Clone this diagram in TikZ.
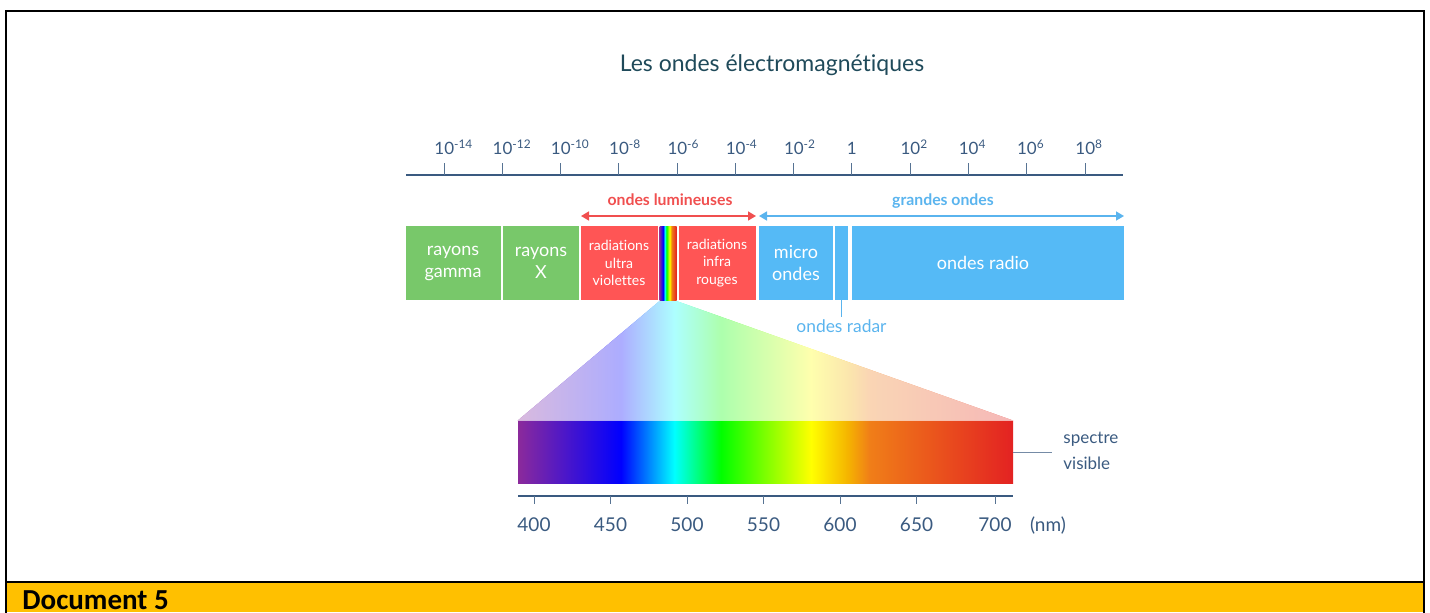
\documentclass[tikz,border=0pt]{standalone}
\usepackage{fontspec}
\setmainfont{Lato}[Ligatures=NoCommon]
\newfontfamily\docfont{Carlito}
\usetikzlibrary{arrows.meta,positioning}

\definecolor{gammagreen}{HTML}{78C86A}
\definecolor{lightred}{HTML}{FF5555}
\definecolor{waveblue}{HTML}{55BAF6}
\definecolor{titleteal}{HTML}{1F4A5A}
\definecolor{axisblue}{HTML}{3A5A80}
\definecolor{lumred}{HTML}{F04F4F}
\definecolor{grandblue}{HTML}{5AB4EE}
\definecolor{docyellow}{HTML}{FFC000}
\definecolor{specviolet}{HTML}{8B2A9B}
\definecolor{specamber}{HTML}{F5B400}
\definecolor{specorange}{HTML}{F07E18}
\definecolor{specred}{HTML}{E32222}

\pgfdeclarehorizontalshading{spectrum}{100bp}{color(0bp)=(specviolet); color(25bp)=(specviolet);
  color(35.4bp)=(blue); color(40.8bp)=(cyan); color(45.5bp)=(green); color(54.6bp)=(yellow);
  color(58.3bp)=(specamber); color(60.5bp)=(specorange); color(75bp)=(specred); color(100bp)=(specred)}

\begin{document}
\begin{tikzpicture}[x=0.5pt, y=-0.5pt,
    axis/.style={axisblue, line width=1pt},
    tick/.style={axisblue!85, line width=0.5pt},
    ticklabel/.style={axisblue, inner sep=0pt, font=\fontsize{8.5}{10}\selectfont},
    barlabel/.style={white, align=center, font=\fontsize{9}{11}\selectfont},
    smalllabel/.style={white, align=center, font=\fontsize{7}{8.75}\selectfont},
    rangearrow/.style={{Triangle[length=4pt,width=4.5pt]}-{Triangle[length=4pt,width=4.5pt]}, line width=0.75pt},
    rangelabel/.style={anchor=base, font=\bfseries\fontsize{7.9}{9}\selectfont},
    nmlabel/.style={axisblue, anchor=base, font=\fontsize{9.5}{11}\selectfont}]
  \useasboundingbox (0,0) rectangle (1430,612);

  % cadre et bandeau
  \fill[docyellow] (6,582) rectangle (1424,612);
  \draw[line width=1pt] (6,613) -- (6,11) -- (1424,11) -- (1424,613);
  \draw[line width=1pt] (6,582) -- (1424,582);
  \node[anchor=base west, inner sep=0pt, font=\docfont\bfseries\fontsize{14.5}{16}\selectfont] (doc) at (22,609) {Document 5};

  \node[titleteal, anchor=base, font=\fontsize{11.5}{13}\selectfont] (title) at (772,71) {Les ondes électromagnétiques};

  % echelle des longueurs d'onde
  \draw[axis] (406,175) -- (1123,175);
  \draw[tick]
    (444,163) -- (444,175)
    (502.3,163) -- (502.3,175)
    (560.5,163) -- (560.5,175)
    (618.8,163) -- (618.8,175)
    (677.1,163) -- (677.1,175)
    (735.4,163) -- (735.4,175)
    (793.6,163) -- (793.6,175)
    (851.9,163) -- (851.9,175)
    (910.2,163) -- (910.2,175)
    (968.4,163) -- (968.4,175)
    (1026.7,163) -- (1026.7,175)
    (1085,163) -- (1085,175);
  \path
    (434,154) node[ticklabel, anchor=base west] (e14) {10\textsuperscript{-14}}
    (492.3,154) node[ticklabel, anchor=base west] (e12) {10\textsuperscript{-12}}
    (550.5,154) node[ticklabel, anchor=base west] (e10) {10\textsuperscript{-10}}
    (608.8,154) node[ticklabel, anchor=base west] (e8) {10\textsuperscript{-8}}
    (667.1,154) node[ticklabel, anchor=base west] (e6) {10\textsuperscript{-6}}
    (725.4,154) node[ticklabel, anchor=base west] (e4) {10\textsuperscript{-4}}
    (783.6,154) node[ticklabel, anchor=base west] (e2) {10\textsuperscript{-2}}
    (851.9,154) node[ticklabel, anchor=base] (e0) {1}
    (900.2,154) node[ticklabel, anchor=base west] (p2) {10\textsuperscript{2}}
    (958.4,154) node[ticklabel, anchor=base west] (p4) {10\textsuperscript{4}}
    (1016.7,154) node[ticklabel, anchor=base west] (p6) {10\textsuperscript{6}}
    (1075,154) node[ticklabel, anchor=base west] (p8) {10\textsuperscript{8}};

  % domaines
  \coordinate (lumL) at (581,216);
  \coordinate (lumR) at (756,216);
  \coordinate (grL) at (759,216);
  \coordinate (grR) at (1124,216);
  \draw[rangearrow, lumred] (lumL) -- (lumR);
  \draw[rangearrow, grandblue] (grL) -- (grR);
  \node[rangelabel, lumred] (lum) at (670,205) {ondes lumineuses};
  \node[rangelabel, grandblue] (grandes) at (943,205) {grandes ondes};

  \fill[gammagreen] (406,226) rectangle (501,300);
  \fill[gammagreen] (503,226) rectangle (579,300);
  \fill[lightred] (581,226) rectangle (657.5,300);
  \shade[shading=spectrum] (659.5,226) rectangle (676.5,300);
  \fill[lightred] (678.5,226) rectangle (756,300);
  \fill[waveblue] (759,226) rectangle (832.5,300);
  \fill[waveblue] (835,226) rectangle (848,300);
  \fill[waveblue] (851.5,226) rectangle (1124,300);

  \node[barlabel] (gamma) at (453,263) {rayons\\gamma};
  \node[barlabel] (xray) at (541,263) {rayons\\X};
  \node[smalllabel] (uv) at (619,263) {radiations\\ultra\\violettes};
  \node[smalllabel] (ir) at (717,263) {radiations\\infra\\rouges};
  \node[barlabel] (micro) at (796,263) {micro\\ondes};
  \node[barlabel] (radio) at (983,263) {ondes radio};

  \coordinate (radartop) at (841.5,300);
  \node[grandblue, inner sep=1pt, font=\fontsize{8.7}{10}\selectfont] (radar) at (841.5,326) {ondes radar};
  \draw[grandblue, line width=0.5pt] (radartop) -- (radar.north);

  % spectre visible
  \node[shade, shading=spectrum, inner sep=0pt, minimum width=247.5pt, minimum height=31pt] (visible) at (765.5,452) {};
  \coordinate (fanL) at (659.5,301);
  \coordinate (fanR) at (676.5,301);
  \shade[shading=spectrum] (fanL) -- (fanR) -- (visible.north east) -- (visible.north west) -- cycle;
  \fill[white, opacity=0.68] (fanL) -- (fanR) -- (visible.north east) -- (visible.north west) -- cycle;

  \node[anchor=west, inner sep=0pt, axisblue, align=left, font=\fontsize{8.5}{13}\selectfont] (spectre) at (1063,451) {spectre\\visible};
  \coordinate (spectreL) at (1052,452);
  \draw[axisblue!70, line width=0.5pt] (visible.east) -- (spectreL);

  \draw[axis] (518,496) -- (1013,496);
  \draw[tick]
    (534,496) -- (534,504)
    (610.5,496) -- (610.5,504)
    (687,496) -- (687,504)
    (763.5,496) -- (763.5,504)
    (840,496) -- (840,504)
    (916.5,496) -- (916.5,504)
    (995,496) -- (995,504);
  \path
    (534,531) node[nmlabel] (n400) {400}
    (610.5,531) node[nmlabel] (n450) {450}
    (687,531) node[nmlabel] (n500) {500}
    (763.5,531) node[nmlabel] (n550) {550}
    (840,531) node[nmlabel] (n600) {600}
    (916.5,531) node[nmlabel] (n650) {650}
    (995,531) node[nmlabel] (n700) {700}
    (1048,531) node[nmlabel] (nm) {(nm)};
\end{tikzpicture}
\end{document}
